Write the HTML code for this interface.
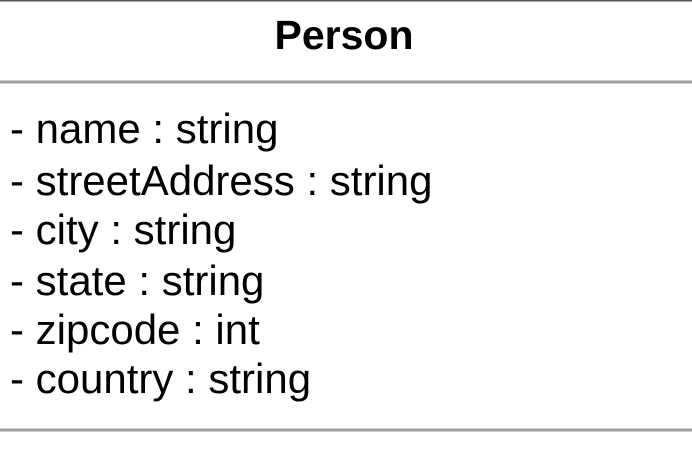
<!DOCTYPE html>
<html><head><meta charset="utf-8"><style>
html,body{margin:0;padding:0;background:#fff;width:692px;height:450px;overflow:hidden}
</style></head><body>
<svg width="692" height="450" xmlns="http://www.w3.org/2000/svg" style="display:block">
<rect x="0" y="0" width="692" height="450" fill="#fff"/>
<line x1="0" y1="0.75" x2="692" y2="0.75" stroke="#555" stroke-width="1.5"/>
<line x1="0" y1="82" x2="692" y2="82" stroke="#9e9e9e" stroke-width="3"/>
<line x1="0" y1="430" x2="692" y2="430" stroke="#9e9e9e" stroke-width="3"/>
<text x="344" y="49" text-anchor="middle" font-family="Liberation Sans, sans-serif" font-weight="bold" font-size="41" fill="#000">Person</text>
<g font-family="Liberation Sans, sans-serif" font-size="42" fill="#000">
<text x="10" y="143">- name : string</text>
<text x="10" y="195">- streetAddress : string</text>
<text x="10" y="244">- city : string</text>
<text x="10" y="295">- state : string</text>
<text x="10" y="344">- zipcode : int</text>
<text x="10" y="393">- country : string</text>
</g>
</svg>
</body></html>
